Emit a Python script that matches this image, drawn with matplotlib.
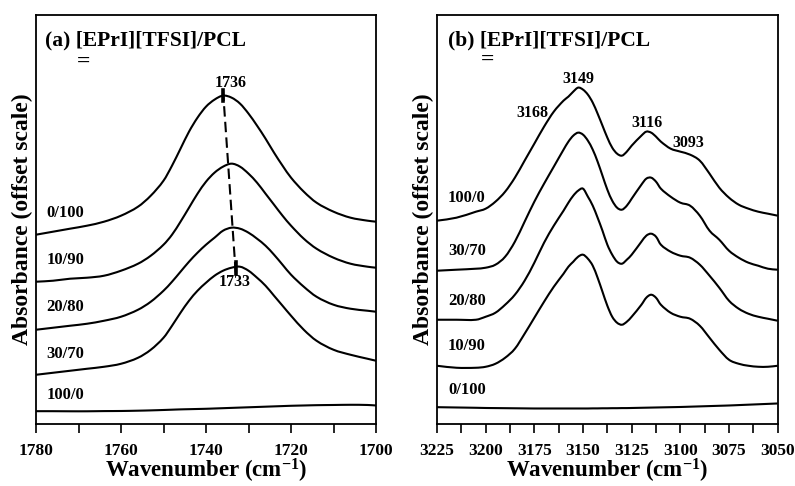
import matplotlib
matplotlib.use('Agg')
import matplotlib.pyplot as plt
from matplotlib.path import Path
import matplotlib.patches as patches

plt.rcParams['font.family'] = ['Liberation Serif', 'DejaVu Serif']
plt.rcParams['font.weight'] = 'bold'
plt.rcParams['axes.labelweight'] = 'bold'
plt.rcParams['mathtext.fontset'] = 'custom'
plt.rcParams['mathtext.default'] = 'regular'

# ---- panel (a): C=O region ----
wn_a = [1780, 1776, 1772, 1768, 1764, 1760, 1756, 1753, 1750, 1748, 1746, 1744, 1742, 1740, 1738,
        1736, 1734, 1732, 1730, 1728, 1726, 1724, 1722, 1720, 1717, 1714, 1710, 1706, 1702, 1700]
a_0_100 = [1.89, 1.92, 1.95, 1.98, 2.02, 2.08, 2.17, 2.28, 2.43, 2.58, 2.75, 2.92, 3.06, 3.17, 3.24,
           3.28, 3.26, 3.20, 3.10, 2.98, 2.85, 2.71, 2.58, 2.46, 2.32, 2.21, 2.12, 2.06, 2.03, 2.02]
a_10_90 = [1.42, 1.43, 1.45, 1.46, 1.48, 1.53, 1.60, 1.68, 1.79, 1.89, 2.02, 2.16, 2.30, 2.42, 2.51,
           2.57, 2.60, 2.57, 2.50, 2.41, 2.30, 2.19, 2.08, 1.98, 1.85, 1.75, 1.66, 1.60, 1.57, 1.56]
a_20_80 = [0.94, 0.96, 0.98, 1.00, 1.03, 1.07, 1.14, 1.22, 1.33, 1.42, 1.52, 1.62, 1.71, 1.79, 1.86,
           1.93, 1.96, 1.95, 1.91, 1.85, 1.78, 1.69, 1.59, 1.49, 1.37, 1.27, 1.19, 1.15, 1.13, 1.12]
a_30_70 = [0.49, 0.51, 0.53, 0.55, 0.57, 0.60, 0.66, 0.74, 0.86, 0.98, 1.11, 1.23, 1.33, 1.41, 1.48,
           1.53, 1.56, 1.57, 1.53, 1.46, 1.38, 1.28, 1.18, 1.08, 0.94, 0.83, 0.74, 0.69, 0.65, 0.63]
a_100_0 = [0.126, 0.126, 0.125, 0.125, 0.127, 0.128, 0.131, 0.134, 0.138, 0.141, 0.144, 0.146, 0.148, 0.150, 0.153,
           0.156, 0.159, 0.162, 0.165, 0.168, 0.171, 0.174, 0.177, 0.180, 0.183, 0.186, 0.188, 0.190, 0.188, 0.183]
labels_a = ['0/100', '10/90', '20/80', '30/70', '100/0']
label_y_a = [2.11, 1.64, 1.17, 0.70, 0.29]
peaks_a = ['1736', '1733']

# ---- panel (b): imidazolium C-H region ----
wn_b = [3225, 3215, 3205, 3200, 3195, 3190, 3185, 3180, 3175, 3170, 3165, 3160,
        3157.5, 3155, 3152.5, 3150, 3147.5, 3145, 3142.5, 3140, 3137.5, 3135, 3132.5, 3130, 3127.5, 3125,
        3120, 3117.5, 3115, 3112.5, 3110,
        3105, 3100, 3095, 3090, 3085, 3080, 3075, 3070, 3065, 3060, 3055, 3050]
b_100_0 = [2.03, 2.06, 2.12, 2.15, 2.22, 2.32, 2.46, 2.63, 2.80, 2.97, 3.12, 3.23,
           3.27, 3.32, 3.36, 3.34, 3.29, 3.21, 3.10, 2.98, 2.86, 2.76, 2.70, 2.68, 2.72, 2.78,
           2.88, 2.92, 2.91, 2.87, 2.82,
           2.75, 2.72, 2.69, 2.63, 2.50, 2.36, 2.26, 2.19, 2.15, 2.12, 2.10, 2.08]
b_30_70 = [1.53, 1.54, 1.55, 1.56, 1.59, 1.67, 1.82, 2.02, 2.22, 2.40, 2.57, 2.74,
           2.82, 2.88, 2.91, 2.89, 2.83, 2.74, 2.62, 2.48, 2.34, 2.23, 2.16, 2.14, 2.18, 2.25,
           2.39, 2.45, 2.46, 2.42, 2.35,
           2.27, 2.21, 2.18, 2.08, 1.93, 1.84, 1.73, 1.66, 1.61, 1.58, 1.55, 1.54]
b_20_80 = [1.04, 1.04, 1.04, 1.07, 1.11, 1.19, 1.29, 1.43, 1.61, 1.81, 1.98, 2.13,
           2.21, 2.28, 2.33, 2.35, 2.27, 2.18, 2.06, 1.93, 1.79, 1.69, 1.62, 1.60, 1.64, 1.69,
           1.82, 1.88, 1.90, 1.87, 1.79,
           1.72, 1.68, 1.66, 1.59, 1.48, 1.36, 1.23, 1.15, 1.10, 1.07, 1.05, 1.03]
b_10_90 = [0.58, 0.56, 0.56, 0.57, 0.60, 0.66, 0.75, 0.90, 1.06, 1.22, 1.37, 1.50,
           1.57, 1.62, 1.67, 1.69, 1.65, 1.58, 1.46, 1.32, 1.18, 1.07, 1.01, 0.99, 1.02, 1.07,
           1.19, 1.26, 1.29, 1.26, 1.19,
           1.11, 1.07, 1.05, 0.98, 0.86, 0.74, 0.64, 0.60, 0.58, 0.57, 0.57, 0.58]
b_0_100 = [0.166, 0.163, 0.160, 0.158, 0.157, 0.156, 0.155, 0.154, 0.153, 0.153, 0.153, 0.153,
           0.153, 0.153, 0.153, 0.153, 0.153, 0.154, 0.154, 0.155, 0.155, 0.156, 0.156, 0.157, 0.157, 0.158,
           0.160, 0.161, 0.162, 0.163, 0.164,
           0.166, 0.168, 0.171, 0.174, 0.177, 0.180, 0.183, 0.187, 0.191, 0.195, 0.199, 0.203]
labels_b = ['100/0', '30/70', '20/80', '10/90', '0/100']
label_y_b = [2.26, 1.73, 1.23, 0.78, 0.34]
peaks_b = ['3168', '3149', '3116', '3093']

title_txt = '[EPrI][TFSI]/PCL'


def smooth_path(xs, ys):
	# cubic hermite through the read points, drawn as bezier segments
	n = len(xs)
	slopes = []
	for i in range(n):
		j0 = max(i - 1, 0)
		j1 = min(i + 1, n - 1)
		slopes.append((ys[j1] - ys[j0]) / (xs[j1] - xs[j0]))
	verts = [(xs[0], ys[0])]
	codes = [Path.MOVETO]
	for i in range(n - 1):
		h = xs[i + 1] - xs[i]
		verts.append((xs[i] + h / 3., ys[i] + slopes[i] * h / 3.))
		verts.append((xs[i + 1] - h / 3., ys[i + 1] - slopes[i + 1] * h / 3.))
		verts.append((xs[i + 1], ys[i + 1]))
		codes += [Path.CURVE4, Path.CURVE4, Path.CURVE4]
	return Path(verts, codes)


fig = plt.figure(figsize=(7.95, 4.86), dpi=100)
ax1 = fig.add_axes([0.0453, 0.128, 0.4277, 0.842])
ax2 = fig.add_axes([0.5497, 0.128, 0.4285, 0.842])

for y in [a_0_100, a_10_90, a_20_80, a_30_70, a_100_0]:
    ax1.add_patch(patches.PathPatch(smooth_path(wn_a, y), facecolor='none', edgecolor='black', lw=1.5))
for y in [b_100_0, b_30_70, b_20_80, b_10_90, b_0_100]:
    ax2.add_patch(patches.PathPatch(smooth_path(wn_b, y), facecolor='none', edgecolor='black', lw=1.5))

# peak shift marker in (a)
ax1.plot([1736, 1733], [3.33, 1.50], color='black', lw=1.5, ls=(0, (5, 2.5)))
ax1.plot([1736, 1736], [3.23, 3.34], color='black', lw=2.6)
ax1.plot([1733, 1733], [1.50, 1.62], color='black', lw=2.6)
ax1.text(1734.2, 3.41, peaks_a[0], fontsize=11.5, ha='center', va='center')
ax1.text(1733.2, 1.42, peaks_a[1], fontsize=11.5, ha='center', va='center')

for t, y in zip(labels_a, label_y_a):
    ax1.text(1777.5, y, t, fontsize=12, ha='left', va='center')
for t, y in zip(labels_b, label_y_b):
    ax2.text(3219.3, y, t, fontsize=12, ha='left', va='center')

ax2.text(3175.8, 3.11, peaks_b[0], fontsize=11.5, ha='center', va='center')
ax2.text(3152.6, 3.45, peaks_b[1], fontsize=11.5, ha='center', va='center')
ax2.text(3117.1, 3.01, peaks_b[2], fontsize=11.5, ha='center', va='center')
ax2.text(3096.0, 2.81, peaks_b[3], fontsize=11.5, ha='center', va='center')

ax1.text(1778.0, 3.83, '(a) ' + title_txt, fontsize=15.5, ha='left', va='center')
ax1.text(1768.9, 3.61, '=', fontsize=17, ha='center', va='center')
ax2.text(3219.2, 3.83, '(b) ' + title_txt, fontsize=15.5, ha='left', va='center')
ax2.text(3199.2, 3.63, '=', fontsize=17, ha='center', va='center')

ax1.set_xlim(1780, 1700)
ax1.set_xticks([1780, 1760, 1740, 1720, 1700])
ax1.set_xticks([1770, 1750, 1730, 1710], minor=True)
ax2.set_xlim(3225, 3050)
ax2.set_xticks([3225, 3200, 3175, 3150, 3125, 3100, 3075, 3050])
ax2.set_xticks([3212.5, 3187.5, 3162.5, 3137.5, 3112.5, 3087.5, 3062.5], minor=True)

for ax in [ax1, ax2]:
    ax.set_ylim(0, 4.09)
    ax.set_yticks([])
    ax.tick_params(which='both', direction='out', length=6.5, width=1.2, top=False, labelsize=12.5, pad=7)
    for sp in ax.spines.values():
        sp.set_linewidth(1.3)
    ax.set_xlabel(r'Wavenumber (cm$^{\mathregular{-1}}$)', fontsize=16.5, fontweight='bold', labelpad=-1)
    ax.text(-0.041, 0.5, 'Absorbance (offset scale)', fontsize=17, rotation=90,
            ha='center', va='center', transform=ax.transAxes)

fig.savefig('out.png', dpi=100)
